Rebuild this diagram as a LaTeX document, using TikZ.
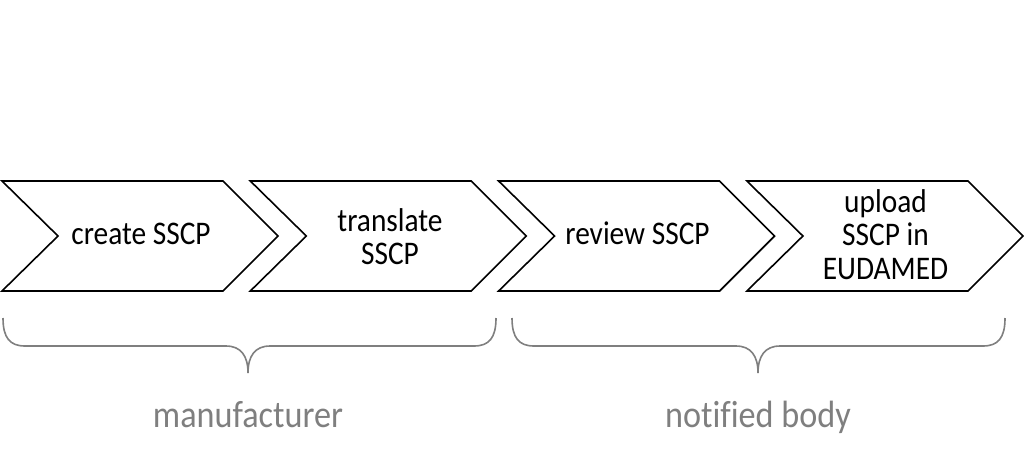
\documentclass[tikz,border=0pt]{standalone}
\usepackage{fontspec}
\setmainfont[Ligatures=NoCommon]{Carlito}
\definecolor{bracegray}{HTML}{7F7F7F}
\begin{document}
\begin{tikzpicture}[x=1pt,y=-1pt,
  chev/.style={draw=black,line width=1.6pt,fill=white,line join=miter},
  steptext/.style={font=\fontsize{33}{33.5}\selectfont,align=center,inner sep=0pt,xscale=0.89,transform shape},
  bracepath/.style={draw=bracegray,line width=1.6pt},
  grouplabel/.style={font=\fontsize{38}{40}\selectfont,text=bracegray,inner sep=0pt,anchor=base,xscale=0.9,transform shape}]
\useasboundingbox (0,0) rectangle (1024,472);
% chevrons
\foreach \L in {2,250.3,498.6,746.9}{
  \draw[chev] (\L,181) -- ++(221,0) -- ++(55,55) -- ++(-55,55) -- ++(-221,0) -- ++(56,-55) -- cycle;
}
\node[steptext,anchor=base] (s1) at (141,244) {create SSCP};
\node[steptext] (s2) at (390,236.5) {translate\\SSCP};
\node[steptext,anchor=base] (s3) at (637.5,244) {review SSCP};
\node[steptext] (s4) at (885.5,234.5) {upload\\SSCP in\\EUDAMED};
% braces
\coordinate (b1l) at (3,318);
\coordinate (b1r) at (496,318);
\coordinate (b1t) at (248,373);
\draw[bracepath] (b1l) .. controls (3,338) and (10,346) .. (25,346) -- (226,346)
   .. controls (241,346) and (248,356) .. (b1t)
   .. controls (248,356) and (255,346) .. (270,346) -- (474,346)
   .. controls (489,346) and (496,338) .. (b1r);
\coordinate (b2l) at (512,318);
\coordinate (b2r) at (1005,318);
\coordinate (b2t) at (758,373);
\draw[bracepath] (b2l) .. controls (512,338) and (519,346) .. (534,346) -- (736,346)
   .. controls (751,346) and (758,356) .. (b2t)
   .. controls (758,356) and (765,346) .. (780,346) -- (983,346)
   .. controls (998,346) and (1005,338) .. (b2r);
\node[grouplabel] (g1) at (248,427) {manufacturer};
\node[grouplabel] (g2) at (758,427) {notified body};
\end{tikzpicture}
\end{document}
